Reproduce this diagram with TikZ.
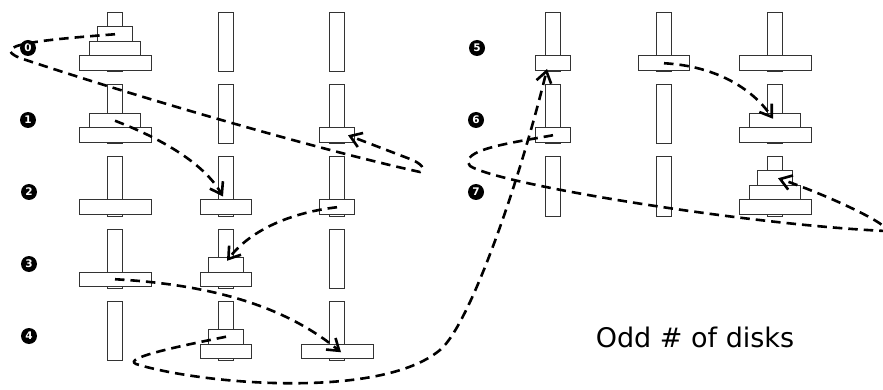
\documentclass[tikz,border=0pt]{standalone}
\usepackage{fontspec}
\setmainfont{DejaVu Sans}
\usetikzlibrary{calc,arrows.meta}

\tikzset{
  peg/.style={draw=black!80, line width=1pt, fill=white, inner sep=0pt,
    minimum width=15pt, minimum height=59pt},
  disk/.style={draw=black!80, line width=1pt, fill=white, inner sep=0pt,
    minimum height=14.5pt},
  disk1/.style={disk, minimum width=35pt},
  disk2/.style={disk, minimum width=51pt},
  disk3/.style={disk, minimum width=72pt},
  numlbl/.style={circle, fill=black, text=white, inner sep=0pt,
    minimum size=16pt, font=\bfseries\fontsize{10.5}{10.5}\selectfont},
  move/.style={line width=2.6pt, dash pattern=on 9.5pt off 6pt,
    -{Straight Barb[length=11pt,width=15pt]}},
  caption/.style={font=\fontsize{27}{30}\selectfont, anchor=base, inner sep=0pt}
}

\begin{document}
\begin{tikzpicture}[x=1pt,y=-1pt]
\useasboundingbox (0,0) rectangle (883,390);

% pegs: left column of states 0-4, right column of states 5-7
\foreach \r/\ty in {0/13,1/85,2/157,3/229,4/301}{
  \foreach \c/\x in {A/115,B/226,C/337}{
    \node[peg] (p\r\c) at (\x,\ty+29.5) {};
  }
}
\foreach \r/\ty in {5/13,6/85,7/157}{
  \foreach \c/\x in {A/553,B/664,C/775}{
    \node[peg] (p\r\c) at (\x,\ty+29.5) {};
  }
}

% disks: state / peg / stack level / size
\foreach \r/\c/\k/\s in {0/A/0/3,0/A/1/2,0/A/2/1,
                        1/A/0/3,1/A/1/2,1/C/0/1,
                        2/A/0/3,2/B/0/2,2/C/0/1,
                        3/A/0/3,3/B/0/2,3/B/1/1,
                        4/B/0/2,4/B/1/1,4/C/0/3,
                        5/A/0/1,5/B/0/2,5/C/0/3,
                        6/A/0/1,6/C/0/3,6/C/1/2,
                        7/C/0/3,7/C/1/2,7/C/2/1}{
  \node[disk\s] (d\r\c\s) at ($(p\r\c.south)+(0,-9.25-14.5*\k)$) {};
}

% state numbers
\foreach \r/\x/\y in {0/28/48,1/28/120,2/29/192,3/29/264,4/29/336,
                      5/477/48,6/476/120,7/476/192}{
  \node[numlbl] (n\r) at (\x,\y) {\r};
}

% moves
\draw[move] (d0A1.center) .. controls (40,40) and (-12,45) .. (20,58)
  .. controls (140,98) and (320,150) .. (420,172)
  .. controls (427,170) and (421,163) .. (410,159)
  -- ($(d1C1.center)+(11,0)$);
\draw[move] (d1A2.center) .. controls (165,140) and (205,165)
  .. ($(d2B2.north)+(-3,-3)$);
\draw[move] (d2C1.center) .. controls (295,212) and (252,228)
  .. ($(d3B1.center)+(1,-4)$);
\draw[move] (d3A3.center) .. controls (220,285) and (290,310)
  .. ($(d4C3.center)+(4,1)$);
\draw[move] (d4B1.center) .. controls (180,346) and (122,358) .. (136,364)
  .. controls (200,384) and (380,400) .. (440,350)
  .. controls (470,325) and (520,180) .. ($(d5A1.south)+(-6,-2)$);
\draw[move] (d5B2.center) .. controls (715,66) and (752,88)
  .. ($(d6C2.center)+(-2,-2)$);
\draw[move] (d6A1.center) .. controls (510,143) and (458,150) .. (470,166)
  .. controls (500,185) and (750,225) .. (886,231)
  .. controls (893,226) and (830,196) .. ($(d7C1.center)+(3,0)$);

\node[caption] (cap) at (695,347) {Odd \# of disks};
\end{tikzpicture}
\end{document}
